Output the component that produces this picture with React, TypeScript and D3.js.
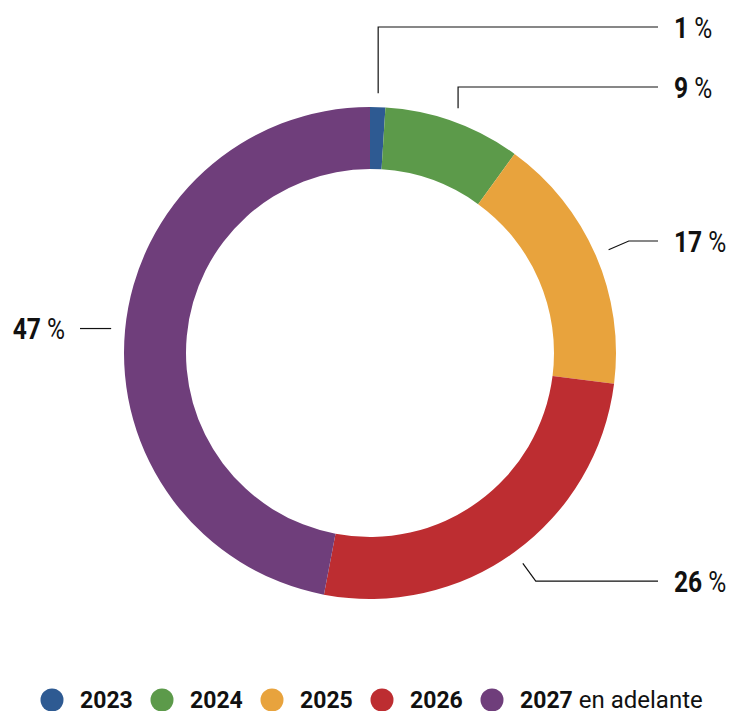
import React from "react";
import * as d3 from "d3";

const categories = ["2023", "2024", "2025", "2026", "2027 en adelante"];
const values = [1, 9, 17, 26, 47];
const percentLabels = ["1", "9", "17", "26", "47"];
const colors = ["#2e5a92", "#5c9a4a", "#e8a33d", "#bd2d31", "#6f3e7b"];

const W = 731;
const H = 711;
const CX = 370;
const CY = 353;
const R_OUT = 246;
const R_IN = 184;
const LEADER_START = 260;
const LEADER_ELBOW = 282;
const LINE_END_RIGHT = 658;
const LINE_END_LEFT = 80;
const TEXT_RIGHT_X = 674;
const TEXT_LEFT_X = 65;
// labels lifted upward to avoid crowding at top
const liftedY: Record<number, number> = { 0: 27, 1: 87 };

const LABEL_FONT = "Roboto, 'DejaVu Sans', sans-serif";
const LEGEND_FONT = "Roboto, 'DejaVu Sans', sans-serif";
const LABEL_SCALE_X = 0.82;

export default function App() {
  const pie = d3.pie<number>().sort(null).value((d) => d).startAngle(0).endAngle(2 * Math.PI);
  const arcs = pie(values);
  const arc = d3.arc<d3.PieArcDatum<number>>().innerRadius(R_IN).outerRadius(R_OUT);

  const labelFs = 30;

  const legendX = d3.scaleLinear().domain([0, 1]).range([52, 162]);

  return (
    <svg width={W} height={H} style={{ position: "absolute", left: 0, top: 0 }}>
      <g transform={`translate(${CX},${CY})`}>
        {arcs.map((a, i) => (
          <path key={i} d={arc(a) || ""} fill={colors[i]} />
        ))}
      </g>
      {arcs.map((a, i) => {
        const mid = (a.startAngle + a.endAngle) / 2;
        const sx = CX + LEADER_START * Math.sin(mid);
        const sy = CY - LEADER_START * Math.cos(mid);
        const right = Math.sin(mid) >= 0;
        let pts: [number, number][];
        let ty: number;
        if (liftedY[i] !== undefined) {
          ty = liftedY[i];
          pts = [[sx, sy], [sx, ty], [LINE_END_RIGHT, ty]];
        } else if (right) {
          const ex = CX + LEADER_ELBOW * Math.sin(mid);
          const ey = CY - LEADER_ELBOW * Math.cos(mid);
          ty = ey;
          pts = [[sx, sy], [ex, ey], [LINE_END_RIGHT, ey]];
        } else {
          ty = sy;
          pts = [[sx, sy], [LINE_END_LEFT, sy]];
        }
        const line = d3.line();
        const tx = right ? TEXT_RIGHT_X : TEXT_LEFT_X;
        return (
          <g key={i}>
            <path d={line(pts) || ""} fill="none" stroke="#111" strokeWidth={1.2} />
            <text
              transform={`translate(${tx},${ty + labelFs * 0.36}) scale(${LABEL_SCALE_X},1)`}
              textAnchor={right ? "start" : "end"}
              fontFamily={LABEL_FONT}
              fontSize={labelFs}
              fill="#111"
            >
              <tspan fontWeight="bold">{percentLabels[i]}</tspan>
              <tspan fontWeight="normal"> %</tspan>
            </text>
          </g>
        );
      })}
      <g>
        {categories.map((c, i) => {
          const x = legendX(i);
          const parts = c.split(" ");
          return (
            <g key={c}>
              <circle cx={x} cy={700} r={11.5} fill={colors[i]} />
              <text x={x + 28} y={708} fontFamily={LEGEND_FONT} fontSize={23} fill="#111">
                <tspan fontWeight="bold">{parts[0]}</tspan>
                {parts.length > 1 ? (
                  <tspan fontWeight="normal" fontSize={24}>{" " + parts.slice(1).join(" ")}</tspan>
                ) : null}
              </text>
            </g>
          );
        })}
      </g>
    </svg>
  );
}
